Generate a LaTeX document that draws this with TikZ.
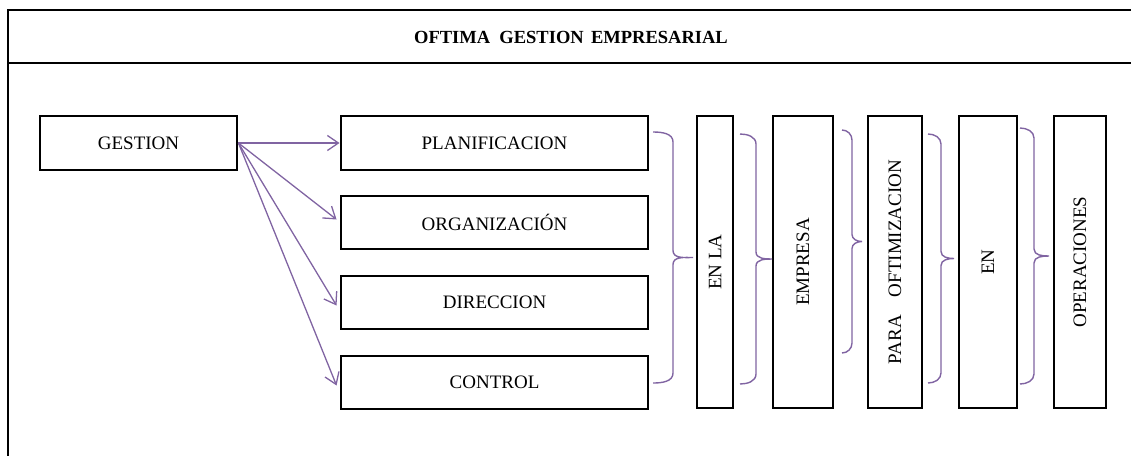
\documentclass[tikz,border=0pt]{standalone}
\usepackage{fontspec}
\setmainfont{Liberation Serif}
\usetikzlibrary{arrows.meta}
\definecolor{accpurple}{RGB}{128,100,162}
\tikzset{
  boxnode/.style={draw=black, line width=2.9pt, minimum width=#1, inner sep=0pt, font=\fontsize{19}{22}\selectfont},
  conn/.style={draw=accpurple, line width=1.3pt, -{Straight Barb[length=11pt,width=15pt,line width=1.3pt]}},
  bracepath/.style={draw=accpurple, line width=1.4pt},
  frameline/.style={draw=black, line width=2.9pt}
}
\newcommand{\mybrace}[5]{% x0, x1, tip, top, bottom
  \pgfmathsetmacro{\mymid}{(#4+#5)/2}
  \draw[bracepath] (#1,#4) to[out=0,in=90] (#2,#4+10) -- (#2,\mymid-7) to[out=-90,in=180] (#3,\mymid)
    (#3,\mymid) to[out=180,in=90] (#2,\mymid+7) -- (#2,#5-10) to[out=-90,in=0] (#1,#5);
}
\begin{document}
\begin{tikzpicture}[x=1pt,y=-1pt]
\useasboundingbox (0,0) rectangle (1131,456);
% frame
\coordinate (ftl) at (8,10);
\coordinate (ftr) at (1131,10);
\coordinate (fml) at (8,63);
\coordinate (fmr) at (1131,63);
\coordinate (fbl) at (8,456);
\draw[frameline] (ftr) -- (ftl) -- (fbl);
\draw[frameline] (fml) -- (fmr);
\node[font=\bfseries\fontsize{18.5}{20}\selectfont, inner sep=0pt] (title) at (571,37) {OFTIMA\hspace{0.5em}GESTION\hspace{0.4em}EMPRESARIAL};
% left boxes
\node[boxnode=197pt, minimum height=54pt] (gestion) at (138.5,143) {GESTION};
\node[boxnode=307pt, minimum height=54pt] (plan) at (494.5,143) {PLANIFICACION};
\node[boxnode=307pt, minimum height=53pt] (org) at (494.5,222.5) {ORGANIZACIÓN};
\node[boxnode=307pt, minimum height=53pt] (dir) at (494.5,302.5) {DIRECCION};
\node[boxnode=307pt, minimum height=53pt] (ctrl) at (494.5,382.5) {CONTROL};
% vertical boxes
\node[boxnode=292pt, minimum height=36pt, rotate=90] (enla) at (715,262) {EN LA};
\node[boxnode=292pt, minimum height=60pt, rotate=90] (empresa) at (803,262) {EMPRESA};
\node[boxnode=292pt, minimum height=54pt, rotate=90] (para) at (895,262) {PARA\hspace{0.95em}OFTIMIZACION};
\node[boxnode=292pt, minimum height=58pt, rotate=90] (en) at (988,262) {EN};
\node[boxnode=292pt, minimum height=52pt, rotate=90] (oper) at (1080,262) {OPERACIONES};
% arrows
\draw[conn] (gestion.east) -- (plan.west);
\draw[conn] (gestion.east) -- ([xshift=-3pt,yshift=3pt]org.west);
\draw[conn] (gestion.east) -- ([xshift=-3pt,yshift=-3pt]dir.west);
\draw[conn] (gestion.east) -- ([xshift=-3pt,yshift=-3pt]ctrl.west);
% braces
\mybrace{653}{673}{693}{132}{383}
\mybrace{740}{756}{772}{134}{384}
\mybrace{842}{852}{862}{130}{353}
\mybrace{928}{941}{954}{134}{383}
\mybrace{1020}{1034}{1049}{128}{384}
\end{tikzpicture}
\end{document}
